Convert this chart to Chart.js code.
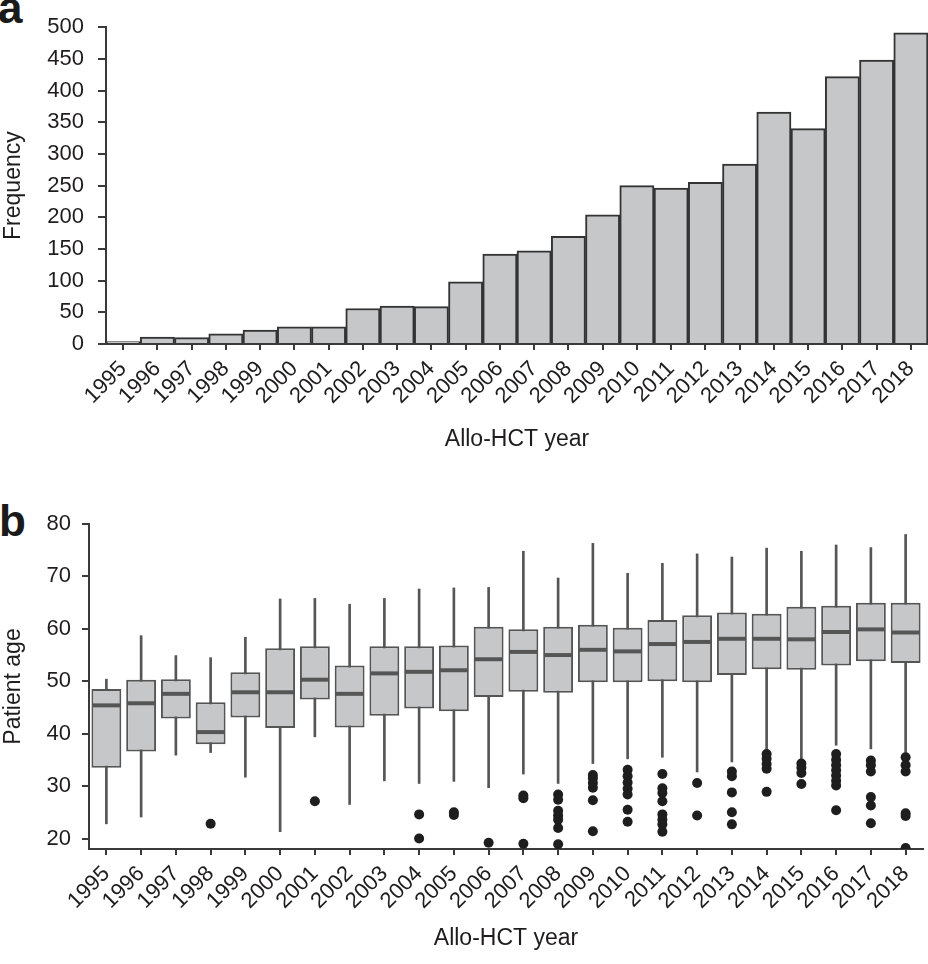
<!DOCTYPE html>
<html>
<head>
<meta charset="utf-8">
<script src="https://cdn.jsdelivr.net/npm/chart.js@4.4.1/dist/chart.umd.min.js"></script>
<style>
  body { margin: 0; background: #fff; width: 928px; height: 964px; position: relative; overflow: hidden; }
  .panel { position: absolute; left: 0; }
  .tag { position: absolute; font: bold 44px "Liberation Sans", Arial, sans-serif; line-height: 1; color: #1a1a1a; }
</style>
</head>
<body>
<div class="tag" style="left:-2px; top:-14px;">a</div>
<div class="tag" style="left:-1px; top:499px;">b</div>
<canvas id="hist" class="panel" style="top:0" width="928" height="480"></canvas>
<canvas id="box" class="panel" style="top:480px" width="928" height="484"></canvas>
<script>
// years of allo-HCT
const years = ["1995", "1996", "1997", "1998", "1999", "2000", "2001", "2002", "2003", "2004", "2005", "2006",
  "2007", "2008", "2009", "2010", "2011", "2012", "2013", "2014", "2015", "2016", "2017", "2018"];

// panel a: number of transplants per year
const frequency = [4, 11, 10, 16, 22, 27, 27, 56, 60, 59, 98, 142, 147, 170, 204, 250, 246, 255, 284, 366, 340, 422, 448, 491];

// panel b: patient age box plots
const whiskerLow = [22.8, 24.1, 35.9, 36.4, 31.7, 21.3, 39.4, 26.5, 31.0, 30.5, 30.9, 29.7,
  32.3, 30.5, 34.3, 35.2, 35.5, 32.7, 34.6, 37.0, 35.0, 37.8, 37.1, 36.4];
const quart1 = [33.5, 36.6, 42.9, 38.0, 43.1, 41.1, 46.5, 41.2, 43.4, 44.8, 44.3, 47.0,
  48.0, 47.8, 49.8, 49.8, 50.0, 49.8, 51.2, 52.3, 52.2, 53.0, 53.8, 53.5];
const medians = [45.4, 45.8, 47.6, 40.3, 47.9, 47.9, 50.3, 47.6, 51.5, 51.8, 52.1, 54.2,
  55.6, 55.0, 56.0, 55.7, 57.1, 57.5, 58.1, 58.1, 58.0, 59.4, 59.9, 59.3];
const quart3 = [48.5, 50.3, 50.4, 46.0, 51.7, 56.3, 56.7, 53.0, 56.7, 56.7, 56.8, 60.4,
  59.9, 60.4, 60.8, 60.2, 61.7, 62.6, 63.1, 62.9, 64.2, 64.4, 65.0, 65.0];
const whiskerHigh = [50.4, 58.7, 54.9, 54.5, 58.4, 65.7, 65.8, 64.7, 65.8, 67.6, 67.8, 67.9,
  74.8, 69.7, 76.3, 70.6, 72.5, 74.3, 73.7, 75.4, 74.8, 76.0, 75.5, 78.0];
const outliers = [
  [], [], [], [22.8], [], [], [27.1], [], [], [24.6, 20.0], [24.5, 25.0], [19.2],
  [28.2, 27.7, 19.0],
  [28.4, 27.4, 25.3, 24.4, 23.6, 22.0, 18.9],
  [32.1, 31.5, 30.6, 29.7, 27.3, 21.4],
  [33.1, 31.9, 30.7, 29.5, 28.4, 25.5, 23.2],
  [32.3, 29.6, 28.7, 27.1, 24.6, 23.6, 22.7, 21.3],
  [30.6, 24.4],
  [32.8, 31.9, 28.8, 25.0, 22.7],
  [36.1, 35.2, 34.2, 33.3, 28.9],
  [34.3, 33.5, 32.5, 30.4],
  [36.1, 35.0, 34.0, 33.0, 32.0, 31.0, 30.1, 25.4],
  [34.9, 34.0, 32.8, 27.9, 26.3, 22.9],
  [35.5, 34.0, 32.8, 24.8, 24.3, 18.2]
];

const FONT = "'Liberation Sans', Arial, sans-serif";
const INK = "#1f1c1d";
const AXIS = "#3a3a3a";

Chart.defaults.font.family = FONT;
Chart.defaults.color = INK;

function xAxis(height, titlePad) {
  return {
    type: "category",
    offset: true,
    grid: { display: true, offset: false, drawOnChartArea: false, drawTicks: true, tickLength: 6, color: AXIS, lineWidth: 2 },
    border: { display: true, color: AXIS, width: 2 },
    ticks: { autoSkip: false, minRotation: 45, maxRotation: 45, padding: 6, font: { size: 22 }, color: INK },
    title: { display: true, text: "Allo-HCT year", font: { size: 23 }, color: INK, padding: { top: 0, bottom: titlePad } },
    afterFit: function (scale) {
      scale.height = height;
      // let the plot run to the right edge like the original
      scale.paddingLeft = 0;
      scale.paddingRight = 0;
    }
  };
}

// panel a
new Chart(document.getElementById("hist").getContext("2d"), {
  type: "bar",
  data: {
    labels: years,
    datasets: [
      {
        label: "Frequency",
        data: frequency,
        backgroundColor: "#c6c7c9",
        borderColor: "#333",
        borderWidth: 2,
        barPercentage: 1,
        categoryPercentage: 1,
      },
    ],
  },
  options: {
    responsive: false,
    animation: false,
    layout: { padding: { top: 20, left: 0, right: 0, bottom: 0 } },
    plugins: { legend: { display: false }, tooltip: { enabled: false } },
    scales: {
      x: xAxis(136, 27),
      y: {
        min: 0,
        max: 500,
        ticks: { stepSize: 50, padding: 14, font: { size: 22 }, color: INK },
        grid: { display: true, drawOnChartArea: false, drawTicks: true, tickLength: 8, color: AXIS, lineWidth: 2 },
        border: { display: true, color: AXIS, width: 2 },
        title: { display: true, text: "Frequency", font: { size: 23 }, color: INK, padding: 0 },
        afterFit: function (scale) { scale.width = 106; }
      }
    },
  },
});

// panel b
const boxData = years.map(function (y, i) { return [quart1[i], quart3[i]]; });
const whiskerData = years.map(function (y, i) { return [whiskerLow[i], whiskerHigh[i]]; });
const medianData = years.map(function (y, i) { return [medians[i] - 0.38, medians[i] + 0.38]; });
const outlierPoints = [];
outliers.forEach(function (list, i) {
  list.forEach(function (v) { outlierPoints.push({ x: years[i], y: v }); });
});

new Chart(document.getElementById("box").getContext("2d"), {
  type: "bar",
  data: {
    labels: years,
    datasets: [
      {
        label: "whiskers",
        data: whiskerData,
        backgroundColor: "#555",
        borderWidth: 0,
        barThickness: 2,
        grouped: false,
        order: 4,
      },
      {
        label: "box",
        data: boxData,
        backgroundColor: "#c6c7c9",
        borderColor: "#555",
        borderWidth: 2,
        borderSkipped: false,
        barPercentage: 0.86,
        categoryPercentage: 1,
        grouped: false,
        order: 3,
      },
      {
        label: "median",
        data: medianData,
        backgroundColor: "#555",
        borderWidth: 0,
        barPercentage: 0.82,
        categoryPercentage: 1,
        grouped: false,
        order: 2,
      },
      {
        type: "line",
        label: "outliers",
        data: outlierPoints,
        showLine: false,
        pointRadius: 5,
        pointBackgroundColor: "#1e1e1e",
        pointBorderWidth: 0,
        order: 1,
      },
    ],
  },
  options: {
    responsive: false,
    animation: false,
    layout: { padding: { top: 44, left: 0, right: 0, bottom: 0 } },
    plugins: { legend: { display: false }, tooltip: { enabled: false } },
    scales: {
      x: xAxis(115, 12),
      y: {
        min: 18,
        max: 80,
        ticks: { stepSize: 10, includeBounds: false, padding: 11, font: { size: 22 }, color: INK },
        grid: { display: true, drawOnChartArea: false, drawTicks: true, tickLength: 7, color: AXIS, lineWidth: 2 },
        border: { display: true, color: AXIS, width: 2 },
        title: { display: true, text: "Patient age", font: { size: 23 }, color: INK, padding: 0 },
        afterFit: function (scale) { scale.width = 89; }
      }
    },
  },
});
</script>
</body>
</html>
